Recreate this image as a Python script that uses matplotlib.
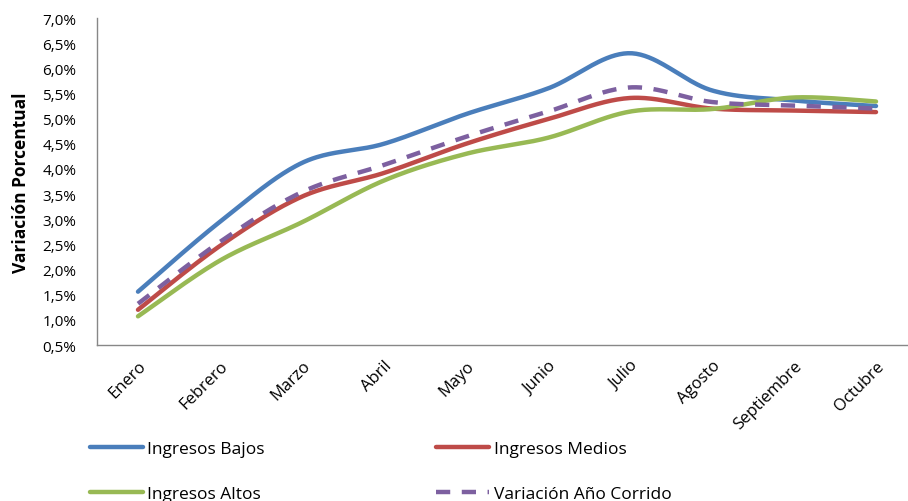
import matplotlib
matplotlib.use("Agg")
import matplotlib.pyplot as plt
import numpy as np

plt.rcParams['font.family'] = ['Open Sans', 'DejaVu Sans']

meses = ['Enero', 'Febrero', 'Marzo', 'Abril', 'Mayo', 'Junio', 'Julio',
         'Agosto', 'Septiembre', 'Octubre']
bajos = [1.56, 2.95, 4.12, 4.50, 5.09, 5.60, 6.30, 5.56, 5.36, 5.25]
medios = [1.20, 2.47, 3.45, 3.92, 4.50, 4.99, 5.41, 5.20, 5.16, 5.13]
altos = [1.07, 2.18, 2.94, 3.77, 4.30, 4.62, 5.14, 5.19, 5.42, 5.34]
corrido = [1.32, 2.55, 3.54, 4.08, 4.64, 5.14, 5.62, 5.33, 5.26, 5.20]

colores = ['#4A7EBB', '#BE4B48', '#98B954', '#7D60A0']
nombres = ['Ingresos Bajos', 'Ingresos Medios', 'Ingresos Altos', 'Variación Año Corrido']


def suavizar(y, n=40):
    # curva tipo "línea suavizada" de Excel (Bezier / Catmull-Rom)
    x = np.arange(len(y), dtype=float)
    y = np.asarray(y, dtype=float)
    xs, ys = [], []
    for i in range(len(y) - 1):
        i0 = max(i - 1, 0)
        i3 = min(i + 2, len(y) - 1)
        p0 = np.array([x[i], y[i]])
        p3 = np.array([x[i + 1], y[i + 1]])
        c1 = p0 + (np.array([x[i + 1], y[i + 1]]) - np.array([x[i0], y[i0]])) / 6
        c2 = p3 - (np.array([x[i3], y[i3]]) - np.array([x[i], y[i]])) / 6
        t = np.linspace(0, 1, n)[:, None]
        pts = (1 - t) ** 3 * p0 + 3 * (1 - t) ** 2 * t * c1 + 3 * (1 - t) * t ** 2 * c2 + t ** 3 * p3
        xs.extend(pts[:, 0])
        ys.extend(pts[:, 1])
    return np.array(xs), np.array(ys)


fig = plt.figure(figsize=(9.08, 5.02), dpi=100)
ax = fig.add_axes([97 / 908, 1 - 346 / 502, 820 / 908, 327 / 502])

series = [bajos, medios, altos, corrido]
handles = []
for k, s in enumerate(series):
    xs, ys = suavizar(s)
    if k == 3:
        h, = ax.plot(xs, ys, color=colores[k], lw=3.2, dashes=(3.2, 2.6),
                     label=nombres[k], solid_capstyle='butt')
    else:
        h, = ax.plot(xs, ys, color=colores[k], lw=3.2, label=nombres[k],
                     solid_capstyle='round')
    handles.append(h)

ax.set_xlim(-0.5, 9.5)
ax.set_ylim(0.5, 7.0)
ax.set_yticks(np.arange(0.5, 7.01, 0.5))
ax.set_yticklabels([('%.1f%%' % v).replace('.', ',') for v in np.arange(0.5, 7.01, 0.5)])
ax.set_xticks(range(len(meses)))
ax.set_xticklabels(meses, rotation=45, ha='right', rotation_mode='anchor')
ax.tick_params(axis='y', labelsize=11, length=0, pad=15)
ax.tick_params(axis='x', labelsize=12, length=0, pad=9)
for lado in ['top', 'right']:
    ax.spines[lado].set_visible(False)
for lado in ['left', 'bottom']:
    ax.spines[lado].set_color('#878787')
    ax.spines[lado].set_linewidth(1)
ax.set_ylabel('Variación Porcentual', fontsize=12.5, fontweight='bold', labelpad=9)

# orden por columnas para que quede Bajos/Medios arriba y Altos/Corrido abajo
orden = [0, 2, 1, 3]
fig.legend(handles=[handles[i] for i in orden], loc='upper left',
           bbox_to_anchor=(74 / 908, 1 - 426 / 502),
           ncol=2, frameon=False, fontsize=12.5, handlelength=3.05, handletextpad=0.25,
           columnspacing=9.9, labelspacing=1.7)

fig.savefig('out.png', dpi=100)
